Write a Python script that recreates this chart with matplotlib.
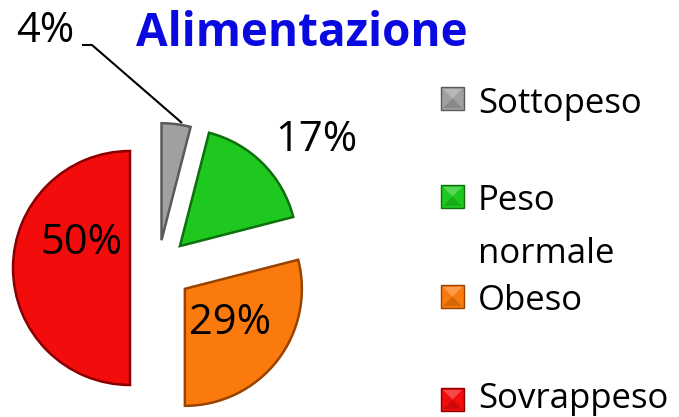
import matplotlib
matplotlib.use("Agg")
import matplotlib.pyplot as plt
from matplotlib.patches import Rectangle, Polygon
import numpy as np

# ---- data ----
categories = ["Sottopeso", "Peso normale", "Obeso", "Sovrappeso"]
values = [4, 17, 29, 50]
pct_labels = ["4%", "17%", "29%", "50%"]
legend_labels = ["Sottopeso", "Peso\nnormale", "Obeso", "Sovrappeso"]
title = "Alimentazione"

# ---- style ----
colors = ["#a0a0a0", "#1ec81e", "#fb7a0e", "#f20c0c"]
edge_colors = ["#5a5a5a", "#0c700c", "#9a4200", "#8a0000"]
explode = [28, 31, 34, 28]   # offsets in pixel units (axes use pixel coords)
W, H = 679, 417
FONT = ["Open Sans", "DejaVu Sans"]

def Y(y):
    return H - y

fig = plt.figure(figsize=(W / 100, H / 100), dpi=100)
ax = fig.add_axes([0, 0, 1, 1])

wedges, _ = ax.pie(values, colors=colors, explode=explode, startangle=90,
                   counterclock=False, radius=117, center=(158, Y(268)),
                   wedgeprops=dict(linewidth=1.8))
for w, ec in zip(wedges, edge_colors):
    w.set_edgecolor(ec)

ax.set_xlim(0, W)
ax.set_ylim(0, H)
ax.set_aspect("auto")
ax.axis("off")

# percentage labels
label_pos = [(45, 31), (316, 140), (230, 323), (81, 243)]
for txt, (x, y) in zip(pct_labels, label_pos):
    ax.text(x, Y(y), txt, ha="center", va="center", fontsize=30,
            family=FONT, color="black")

# leader line for 4%
ax.plot([82, 92, 182], [Y(45), Y(45), Y(123)], color="black", lw=1.5,
        solid_capstyle="butt")

# title
ax.text(302, Y(46), title, ha="center", va="baseline", fontsize=33,
        fontweight="bold", family=FONT, color="#0a0ae0")

# legend
marker_top = [87, 185, 285, 388]
text_base = [113, 210, 310, 408]
for lab, col, ec, mt, tb in zip(legend_labels, colors, edge_colors,
                                 marker_top, text_base):
    x0, s = 441, 23
    ax.add_patch(Rectangle((x0, Y(mt + s)), s, s, facecolor=col,
                           edgecolor=ec, lw=1.0))
    cx, cy = x0 + s / 2, Y(mt + s / 2)
    ax.add_patch(Polygon([(x0 + 2, Y(mt + 2)), (x0 + s - 2, Y(mt + 2)), (cx, cy)],
                         closed=True, facecolor="white", alpha=0.25, lw=0))
    ax.add_patch(Polygon([(x0 + 2, Y(mt + s - 2)), (x0 + s - 2, Y(mt + s - 2)), (cx, cy)],
                         closed=True, facecolor="black", alpha=0.15, lw=0))
    lines = lab.split("\n")
    for i, ln in enumerate(lines):
        ax.text(478, Y(tb + i * 53), ln, ha="left", va="baseline",
                fontsize=25, family=FONT, color="black")

fig.savefig("out.png", dpi=100)
